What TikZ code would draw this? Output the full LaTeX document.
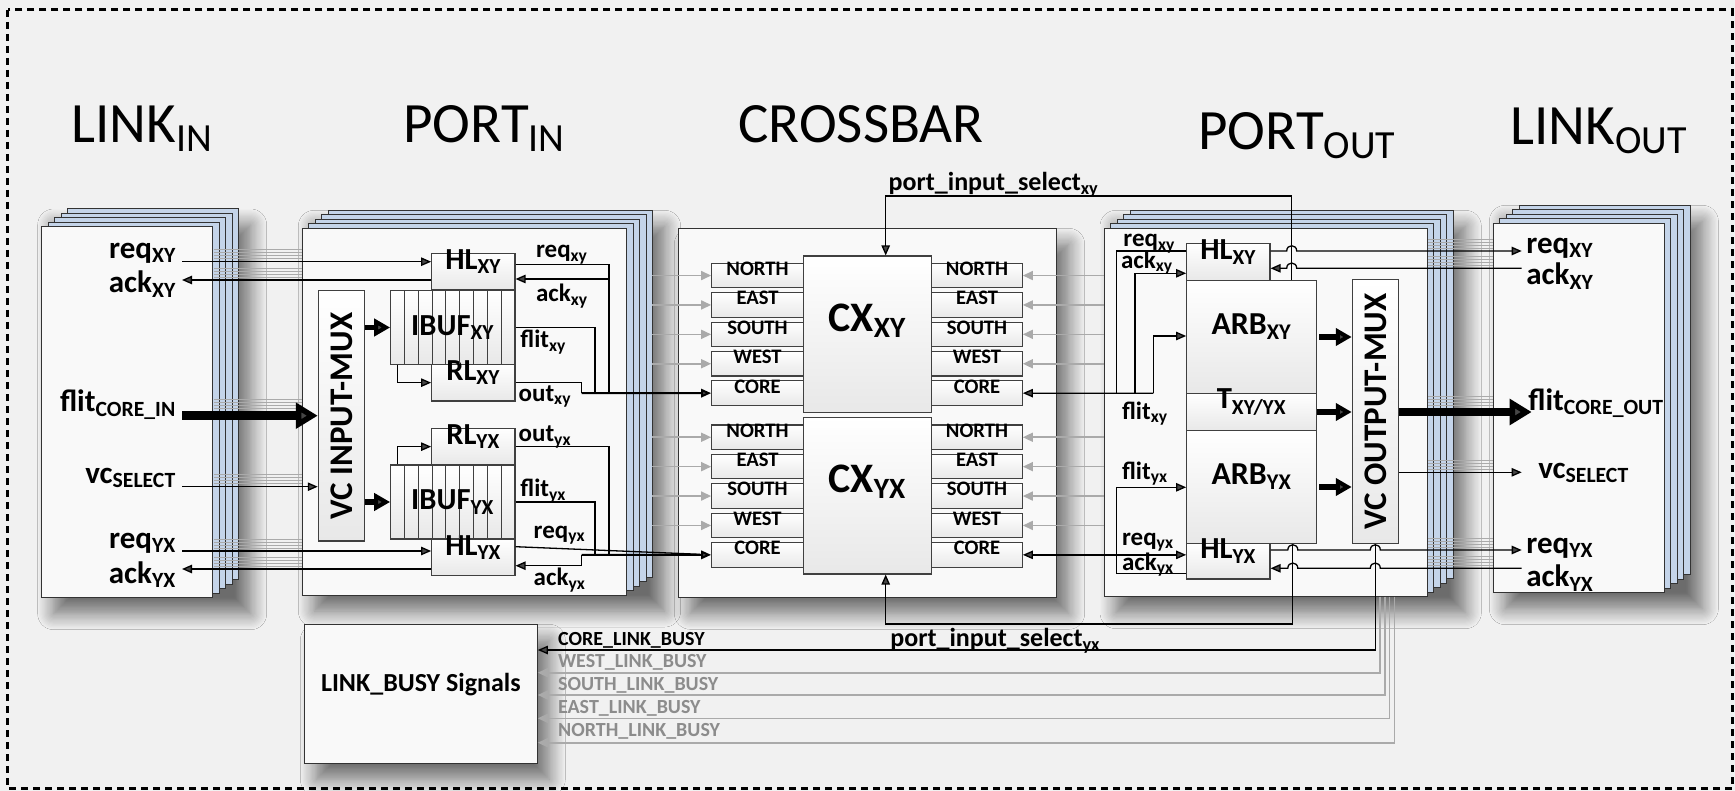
\documentclass[tikz,border=0pt]{standalone}
\usepackage{fontspec}
\setmainfont{Carlito}
\usetikzlibrary{arrows.meta,positioning,fit,shadows.blur}
\definecolor{Backdrop}{RGB}{241,241,241}
\definecolor{Stack}{RGB}{196,212,233}
\definecolor{Panel}{RGB}{249,249,249}
\definecolor{Streak}{RGB}{170,170,170}
\definecolor{Busy}{RGB}{140,140,140}
\newcommand{\sub}[1]{\textsubscript{#1}}
\newcommand{\fs}[1]{\fontsize{#1}{#1}\selectfont}

\begin{document}
\begin{tikzpicture}[x=0.5pt,y=-0.5pt,>={Triangle[length=5pt,width=4.2pt]},
  sig/.style={line width=0.65pt,->},
  wire/.style={line width=0.65pt},
  bus/.style={line width=1pt,->},
  fatsig/.style={line width=2.6pt,-{Triangle[length=8pt,width=8.5pt]}},
  hugesig/.style={line width=4.4pt,-{Triangle[length=11pt,width=12.5pt]}},
  greysig/.style={line width=0.8pt,draw=Streak,-{Triangle[length=5pt,width=4.5pt]}},
  streak/.style={line width=0.45pt,draw=Streak},
  dropshadow/.style={blur shadow={shadow xshift=6pt,shadow yshift=-8pt,shadow blur radius=8pt,shadow blur steps=14,shadow opacity=55}},
  stacklayer/.style={draw=black!80,line width=0.5pt,fill=Stack},
  panel/.style={draw=black!80,line width=0.5pt,fill=Panel,inner sep=0pt},
  blk/.style={draw=black!75,line width=0.55pt,top color=white,bottom color=black!9,inner sep=0pt},
  ttl/.style={font=\fs{28.5},inner sep=0pt},
  siglbl/.style={font=\fs{15.5}\bfseries,inner sep=0pt},
  smalllbl/.style={font=\fs{12.5}\bfseries,inner sep=0pt,anchor=base west},
  blklbl/.style={font=\fs{15.3}\bfseries},
  portlbl/.style={font=\fs{10.3}\bfseries},
  busylbl/.style={font=\fs{10}\bfseries,inner sep=0pt,anchor=base west}]

  \useasboundingbox (0,0) rectangle (1735,791);
  \fill[Backdrop] (0,0) rectangle (1735,791);

  % titles
  \node[ttl,anchor=base west] (ttlinkin) at (71,143) {LINK\sub{IN}};
  \node[ttl,anchor=base west] (ttportin) at (403,143) {PORT\sub{IN}};
  \node[ttl,anchor=base] (ttxbar) at (861,143) {CROSSBAR};
  \node[ttl,anchor=base west] (ttportout) at (1198,150) {PORT\sub{OUT}};
  \node[ttl,anchor=base west] (ttlinkout) at (1510,145) {LINK\sub{OUT}};

  % LINK_IN stack
  \path[dropshadow] (41.7,209) rectangle (238.7,597.7);
  \foreach \k in {4,3,2,1}
    \filldraw[stacklayer] (41.7+6.5*\k,227-4.5*\k) rectangle (212.7+6.5*\k,597.7-4.5*\k);
  \node[panel,fit={(41.7,227)(212.7,597.7)}] (linkin) {};

  % PORT_IN stack
  \path[dropshadow] (302.3,210.3) rectangle (652.7,595);
  \foreach \k in {4,3,2,1}
    \filldraw[stacklayer] (302.3+6.5*\k,228.3-4.5*\k) rectangle (626.7+6.5*\k,595-4.5*\k);
  \node[panel,fit={(302.3,228.3)(626.7,595)}] (portin) {};

  % CROSSBAR
  \node[panel,dropshadow,fit={(678.3,228.3)(1056.7,597.3)}] (xbar) {};

  % PORT_OUT stack
  \path[dropshadow] (1104,210.3) rectangle (1453.3,596.7);
  \foreach \k in {4,3,2,1}
    \filldraw[stacklayer] (1104+6.5*\k,228.3-4.5*\k) rectangle (1427.3+6.5*\k,596.7-4.5*\k);
  \node[panel,fit={(1104,228.3)(1427.3,596.7)}] (portout) {};

  % LINK_OUT stack
  \path[dropshadow] (1493.3,205.3) rectangle (1690.3,592.7);
  \foreach \k in {4,3,2,1}
    \filldraw[stacklayer] (1493.3+6.5*\k,223.3-4.5*\k) rectangle (1664+6.5*\k,592.7-4.5*\k);
  \node[panel,fit={(1493.3,223.3)(1664,592.7)}] (linkout) {};

  % LINK_BUSY block
  \node[panel,dropshadow,font=\fs{13}\bfseries,fit={(304.3,624.3)(537.3,763.3)}] (lbusy) {LINK\_BUSY Signals};

  % streaks of the stacked layers
  \foreach \y in {261.7,280,411,486.7,551,569}
    \foreach \k in {1,...,4}
      \draw[streak] (214,\y-3*\k) -- (302,\y-3*\k);
  \foreach \y in {251,268.3,408,472.3,550,568.3}
    \foreach \k in {1,...,4}
      \draw[streak] (1428,\y-3*\k) -- (1493,\y-3*\k);

  % PORT_IN units
  \node[blk,fit={(318.3,290.7)(364.3,541)}] (mux) {};
  \node[rotate=90,font=\fs{16.5}\bfseries] at (mux) {VC INPUT-MUX};
  \node[blk,blklbl,fit={(431.7,253.3)(515,290)}] (hlxy) {HL\sub{XY}};
  \node[blk,fit={(390.7,290.7)(515,364.3)}] (ibufxy) {};
  \node[blk,blklbl,fit={(431.7,364.3)(515,401)}] (rlxy) {RL\sub{XY}};
  \node[blk,blklbl,fit={(431.7,428.3)(515,465)}] (rlyx) {RL\sub{YX}};
  \node[blk,fit={(390.7,465)(515,539)}] (ibufyx) {};
  \node[blk,blklbl,fit={(431.7,539)(515,575.7)}] (hlyx) {HL\sub{YX}};
  \foreach \c in {1,...,8}{
    \draw[line width=0.5pt,black!75] (390.7+13.81*\c,290.7) -- (390.7+13.81*\c,364.3);
    \draw[line width=0.5pt,black!75] (390.7+13.81*\c,465) -- (390.7+13.81*\c,539);
  }
  \node[blklbl] at (ibufxy) {IBUF\sub{XY}};
  \node[blklbl] at (ibufyx) {IBUF\sub{YX}};

  % CROSSBAR units
  \node[blk,font=\fs{21}\bfseries,fit={(803.3,256)(931.7,412.3)}] (cxxy) {CX\sub{XY}};
  \node[blk,font=\fs{21}\bfseries,fit={(803.3,417.3)(931.7,574)}] (cxyx) {CX\sub{YX}};
  \foreach \nm [count=\i from 0] in {NORTH,EAST,SOUTH,WEST,CORE}{
    \node[blk,portlbl,fit={(711.7,263.3+29.4*\i)(803.3,287.8+29.4*\i)}] (lxy\i) {\nm};
    \node[blk,portlbl,fit={(931.7,263.3+29.4*\i)(1022.3,287.8+29.4*\i)}] (rxy\i) {\nm};
    \node[blk,portlbl,fit={(711.7,425+29.4*\i)(803.3,449.5+29.4*\i)}] (lyx\i) {\nm};
    \node[blk,portlbl,fit={(931.7,425+29.4*\i)(1022.3,449.5+29.4*\i)}] (ryx\i) {\nm};
  }
  \foreach \i in {0,...,3}{
    \draw[greysig] (lxy\i.west -| 652,0) -- (lxy\i.west);
    \draw[greysig] (lyx\i.west -| 652,0) -- (lyx\i.west);
    \draw[greysig] (rxy\i.east -| 1104,0) -- (rxy\i.east);
    \draw[greysig] (ryx\i.east -| 1104,0) -- (ryx\i.east);
  }

  % PORT_OUT units
  \node[blk,blklbl,fit={(1186.7,243.3)(1270,280.7)}] (hlxyo) {HL\sub{XY}};
  \node[blk,font=\fs{16}\bfseries,fit={(1186.7,280.7)(1316.7,393.3)}] (arbxy) {ARB\sub{XY}};
  \node[blk,blklbl,fit={(1186.7,393.3)(1316.7,430.7)}] (txy) {T\sub{XY/YX}};
  \node[blk,font=\fs{16}\bfseries,fit={(1186.7,430.7)(1316.7,543.3)}] (arbyx) {ARB\sub{YX}};
  \node[blk,blklbl,fit={(1186.7,543.3)(1270,579)}] (hlyxo) {HL\sub{YX}};
  \node[blk,fit={(1352.3,279.3)(1398.3,543.3)}] (omux) {};
  \node[rotate=90,font=\fs{16.5}\bfseries] at (omux) {VC OUTPUT-MUX};

  % link ends
  \coordinate (lreqxy) at (182,261.7);
  \coordinate (lackxy) at (182,280);
  \coordinate (lflit) at (182,415.7);
  \coordinate (lvc) at (182,486.7);
  \coordinate (lreqyx) at (182,551);
  \coordinate (lackyx) at (182,569);
  \coordinate (oreqxy) at (1521.7,251);
  \coordinate (oackxy) at (1521.7,268.3);
  \coordinate (oflit) at (1531.7,412);
  \coordinate (ovc) at (1521.7,472.3);
  \coordinate (oreqyx) at (1521.7,550);
  \coordinate (oackyx) at (1521.7,568.3);
  \coordinate (jxyin) at (581.7,393.15);
  \coordinate (jyxin) at (581.7,554.85);
  \coordinate (jxyout) at (1153.3,393.15);

  % LINK_IN -> PORT_IN
  \draw[sig] (lreqxy) -- (lreqxy -| hlxy.west);
  \draw[sig] (lackxy -| hlxy.west) -- (lackxy);
  \draw[hugesig] (lflit) -- (lflit -| mux.west);
  \draw[sig] (lvc) -- (lvc -| mux.west);
  \draw[sig] (lreqyx) -- (lreqyx -| hlyx.west);
  \draw[sig] (lackyx -| hlyx.west) -- (lackyx);

  % inside PORT_IN
  \draw[fatsig] (mux.east |- ibufxy) -- (ibufxy.west);
  \draw[fatsig] (mux.east |- ibufyx) -- (ibufyx.west);
  \draw[sig] ([xshift=3.8pt]ibufxy.south west) |- (rlxy.west);
  \draw[sig] ([xshift=3.8pt]ibufyx.north west) |- (rlyx.west);
  \draw[wire] (hlxy.east |- 0,264.3) -| (609,393.15);
  \draw[sig] (609,279) -- (hlxy.east |- 0,279);
  \draw[wire] (ibufxy.east) -| (595,393.15);
  \draw[wire] (rlxy.east) -| (jxyin);
  \draw[bus] (jxyin) -- (lxy4.west);
  \draw[wire] (rlyx.east) -| (609,554.85);
  \draw[wire] (ibufyx.east) -| (595,554.85);
  \draw[wire] (hlyx.east |- 0,546.7) -- (700,554.3);
  \draw[sig] (jyxin) |- (hlyx.east |- 0,565.7);
  \draw[bus] (jyxin) -- (lyx4.west);

  % port_input_select
  \draw[sig] (arbxy.north -| 1291.7,0) |- (885.7,196) -- (cxxy.north -| 885.7,0);
  \draw[sig] (arbyx.south -| 1292.8,0) |- (885.7,624) -- (cxyx.south -| 885.7,0);

  % CROSSBAR <-> PORT_OUT
  \draw[wire] (hlxyo.west |- 0,251) -| (1116.7,393.15);
  \draw[sig] (1135,393.15) |- (hlxyo.west |- 0,273.3);
  \draw[sig] (jxyout) |- (arbxy.west |- 0,336);
  \draw[sig] (jxyout) -- (rxy4.east);
  \draw[wire,<->] (ryx4.east) -- (ryx4.east -| hlyxo.west);
  \draw[sig] (hlyxo.west |- 0,573.3) -| (1116.7,487.3) -- (arbyx.west |- 0,487.3);

  % inside PORT_OUT
  \draw[fatsig,shorten <=1pt] (arbxy.east) -- (arbxy.east -| omux.west);
  \draw[fatsig] (txy.east) -- (txy.east -| omux.west);
  \draw[fatsig,shorten <=1pt] (arbyx.east) -- (arbyx.east -| omux.west);

  % PORT_OUT -> LINK_OUT
  \draw[hugesig] (omux.east |- oflit) -- (oflit);
  \draw[sig] (omux.east |- ovc) -- (ovc);
  \draw[sig] (hlxyo.east |- oreqxy) -- (1286.7,251) .. controls +(0,-7) and +(0,-7) .. (1296.7,251) -- (oreqxy);
  \draw[sig] (oackxy) -- (1296.7,268.3) .. controls +(0,-7) and +(0,-7) .. (1286.7,268.3) -- (hlxyo.east |- oackxy);
  \draw[sig] (hlyxo.east |- oreqyx) -- (1287.8,550) .. controls +(0,-7) and +(0,-7) .. (1297.8,550)
    -- (1370.3,550) .. controls +(0,-7) and +(0,-7) .. (1380.3,550) -- (oreqyx);
  \draw[sig] (oackyx) -- (1380.3,568.3) .. controls +(0,-7) and +(0,-7) .. (1370.3,568.3)
    -- (1297.8,568.3) .. controls +(0,-7) and +(0,-7) .. (1287.8,568.3) -- (hlyxo.east |- oackyx);

  % LINK_BUSY wires
  \draw[sig] (omux.south) |- (lbusy.east |- 0,650);
  \foreach \x/\y in {1380/672.7,1384.8/695,1389.6/718.3,1394.4/742.7}
    \draw[greysig] (\x,596.7) |- (lbusy.east |- 0,\y);

  % LINK_IN labels
  \node[siglbl,anchor=base east] (ireqxy) at (176.7,258.3) {req\sub{XY}};
  \node[siglbl,anchor=base east] (iackxy) at (176.7,292.7) {ack\sub{XY}};
  \node[siglbl,anchor=base east] (iflit) at (176.7,411.7) {flit\sub{CORE\_IN}};
  \node[siglbl,anchor=base east] (ivc) at (176.7,483.3) {vc\sub{SELECT}};
  \node[siglbl,anchor=base east] (ireqyx) at (176.7,548.3) {req\sub{YX}};
  \node[siglbl,anchor=base east] (iackyx) at (176.7,583.3) {ack\sub{YX}};

  % LINK_OUT labels
  \node[siglbl,anchor=base west] (oreqxylbl) at (1526,253.3) {req\sub{XY}};
  \node[siglbl,anchor=base west] (oackxylbl) at (1526,285) {ack\sub{XY}};
  \node[siglbl,anchor=base west] (oflitlbl) at (1528,410) {flit\sub{CORE\_OUT}};
  \node[siglbl,anchor=base west] (ovclbl) at (1538,478.3) {vc\sub{SELECT}};
  \node[siglbl,anchor=base west] (oreqyxlbl) at (1526,553.3) {req\sub{YX}};
  \node[siglbl,anchor=base west] (oackyxlbl) at (1526,586.7) {ack\sub{YX}};

  % PORT_IN labels
  \node[smalllbl] at (535.7,258) {req\sub{xy}};
  \node[smalllbl] at (535.7,301.7) {ack\sub{xy}};
  \node[smalllbl] at (520,348) {flit\sub{xy}};
  \node[smalllbl] at (518.3,401) {out\sub{xy}};
  \node[smalllbl] at (518.3,441.7) {out\sub{yx}};
  \node[smalllbl] at (520,496.7) {flit\sub{yx}};
  \node[smalllbl] at (533.3,538) {req\sub{yx}};
  \node[smalllbl] at (533.3,585.7) {ack\sub{yx}};

  % PORT_OUT labels
  \node[smalllbl] at (1123,246.7) {req\sub{xy}};
  \node[smalllbl] at (1120.7,268.3) {ack\sub{xy}};
  \node[smalllbl] at (1121.7,419) {flit\sub{xy}};
  \node[smalllbl] at (1121.7,479) {flit\sub{yx}};
  \node[smalllbl] at (1121.7,545) {req\sub{yx}};
  \node[smalllbl] at (1121.7,570) {ack\sub{yx}};

  % select labels
  \node[smalllbl,font=\fs{13}\bfseries] at (888.3,190.7) {port\_input\_select\sub{xy}};
  \node[smalllbl,font=\fs{13}\bfseries] at (890,646.7) {port\_input\_select\sub{yx}};

  % LINK_BUSY labels
  \node[busylbl] at (557.7,645) {CORE\_LINK\_BUSY};
  \node[busylbl,text=Busy] at (557.7,667.5) {WEST\_LINK\_BUSY};
  \node[busylbl,text=Busy] at (557.7,690) {SOUTH\_LINK\_BUSY};
  \node[busylbl,text=Busy] at (557.7,713) {EAST\_LINK\_BUSY};
  \node[busylbl,text=Busy] at (557.7,736) {NORTH\_LINK\_BUSY};

  % frame
  \draw[line width=1.5pt,dash pattern=on 3.5pt off 2.5pt] (7.7,10) rectangle (1732.5,788.5);
\end{tikzpicture}
\end{document}
